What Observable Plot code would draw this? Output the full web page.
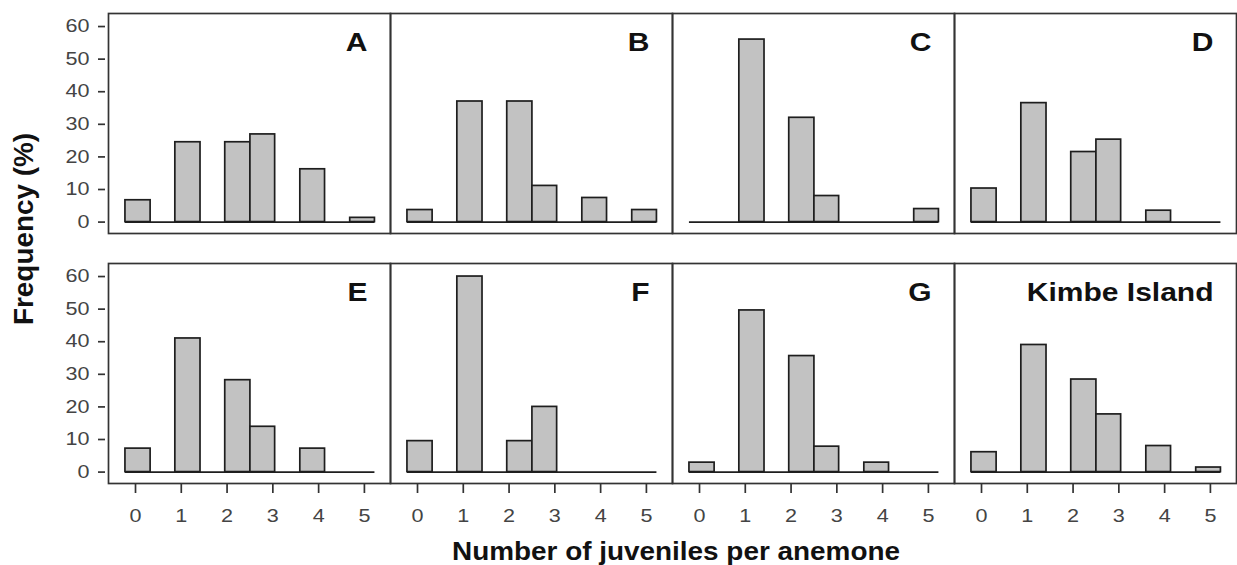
<!DOCTYPE html>
<html>
<head>
<meta charset="utf-8">
<script src="https://cdn.jsdelivr.net/npm/d3@7"></script>
<script src="https://cdn.jsdelivr.net/npm/@observablehq/plot@0.6"></script>
<style>
  body { margin: 0; background: #fff; }
  #chart svg { display: block; }
</style>
</head>
<body>
<div id="chart"></div>
<script>
// Sites, one panel each (4 columns x 2 rows)
const sites = ["A", "B", "C", "D", "E", "F", "G", "Kimbe Island"];

// Number of juveniles per anemone (x tick labels)
const juveniles = [0, 1, 2, 3, 4, 5];

// Histogram break points, on the juvenile axis
const breaks = [-0.22, 0.33, 0.87, 1.42, 1.96, 2.51, 3.05, 3.6, 4.14, 4.69, 5.23];
// Histogram bin that holds each juvenile count
const binOfCount = [0, 2, 4, 5, 7, 9];

// Frequency (%) of anemones holding 0..5 juveniles, per site
const freqA = [6.7, 24.5, 24.5, 26.9, 16.2, 1.3];
const freqB = [3.7, 37.0, 37.0, 11.1, 7.4, 3.7];
const freqC = [0, 56.0, 32.0, 8.0, 0, 4.0];
const freqD = [10.3, 36.5, 21.5, 25.3, 3.5, 0];
const freqE = [7.2, 41.0, 28.2, 13.9, 7.2, 0];
const freqF = [9.5, 60.0, 9.5, 20.0, 0, 0];
const freqG = [2.9, 49.6, 35.6, 7.8, 2.9, 0];
const freqKimbe = [6.1, 39.0, 28.4, 17.7, 8.0, 1.4];

// Y tick labels
const yTicks = [0, 10, 20, 30, 40, 50, 60];

const freqs = [freqA, freqB, freqC, freqD, freqE, freqF, freqG, freqKimbe];

const panels = sites.map((site, i) => ({site, col: i % 4, row: Math.floor(i / 4)}));
const bars = panels.flatMap((p, i) =>
  juveniles.map((n, j) => ({...p, n, freq: freqs[i][j]}))
).filter(d => d.freq > 0);

const font = "'Liberation Sans', Arial, sans-serif";

const chart = Plot.plot({
  width: 1237,
  height: 565,
  marginLeft: 108,
  marginRight: 1,
  marginTop: 13,
  marginBottom: 82,
  style: {fontFamily: font, background: "#fff"},
  fx: {domain: [0, 1, 2, 3], padding: 0, axis: null},
  fy: {domain: [0, 1], padding: 0.12, axis: null},
  x: {domain: [-0.59, 5.57]},
  y: {domain: [-3.5, 64]},
  marks: [
    Plot.rectY(bars, {
      fx: "col", fy: "row",
      x1: d => breaks[binOfCount[d.n]],
      x2: d => breaks[binOfCount[d.n] + 1],
      y: "freq",
      fill: "#c2c2c2", stroke: "#1e1e1e", strokeWidth: 1.7
    }),
    Plot.ruleY(panels, {
      fx: "col", fy: "row", y: () => 0,
      x1: () => breaks[0], x2: () => breaks[breaks.length - 1],
      stroke: "#1e1e1e", strokeWidth: 1.7
    }),
    Plot.frame({stroke: "#333", strokeWidth: 1.7}),
    Plot.text(panels, {
      fx: "col", fy: "row", text: "site",
      frameAnchor: "top-right", textAnchor: "end", lineAnchor: "bottom",
      dx: -23, dy: 37, fontSize: 25, fontWeight: "bold", fill: "#111"
    }),
    Plot.axisX({
      ticks: juveniles, tickFormat: d => String(d), label: null,
      facetAnchor: "bottom", tickSize: 10, tickPadding: 16,
      fontSize: 18, stroke: "#333", fill: "#444", strokeWidth: 1.7
    }),
    Plot.axisY({
      ticks: yTicks, tickFormat: d => String(d), label: null,
      facetAnchor: "left", tickSize: 7, tickPadding: 9, dx: -3,
      fontSize: 18, stroke: "#333", fill: "#444", strokeWidth: 1.7
    })
  ]
});

document.getElementById("chart").appendChild(chart);

// Widen the lettering horizontally, as in the published figure
chart.querySelectorAll("text").forEach(t => {
  const len = t.getComputedTextLength();
  if (len > 0) {
    t.setAttribute("textLength", (len * 1.2).toFixed(1));
    t.setAttribute("lengthAdjust", "spacingAndGlyphs");
  }
});

// Shared axis titles
const svg = d3.select(chart);
svg.append("text")
  .attr("x", 676).attr("y", 560)
  .attr("text-anchor", "middle")
  .attr("font-family", font).attr("font-size", 25).attr("font-weight", "bold")
  .attr("fill", "#111")
  .attr("textLength", 448).attr("lengthAdjust", "spacingAndGlyphs")
  .text("Number of juveniles per anemone");

svg.append("text")
  .attr("transform", "translate(33,229) rotate(-90)")
  .attr("text-anchor", "middle")
  .attr("font-family", font).attr("font-size", 27).attr("font-weight", "bold")
  .attr("fill", "#111")
  .attr("textLength", 192).attr("lengthAdjust", "spacingAndGlyphs")
  .text("Frequency (%)");
</script>
</body>
</html>
